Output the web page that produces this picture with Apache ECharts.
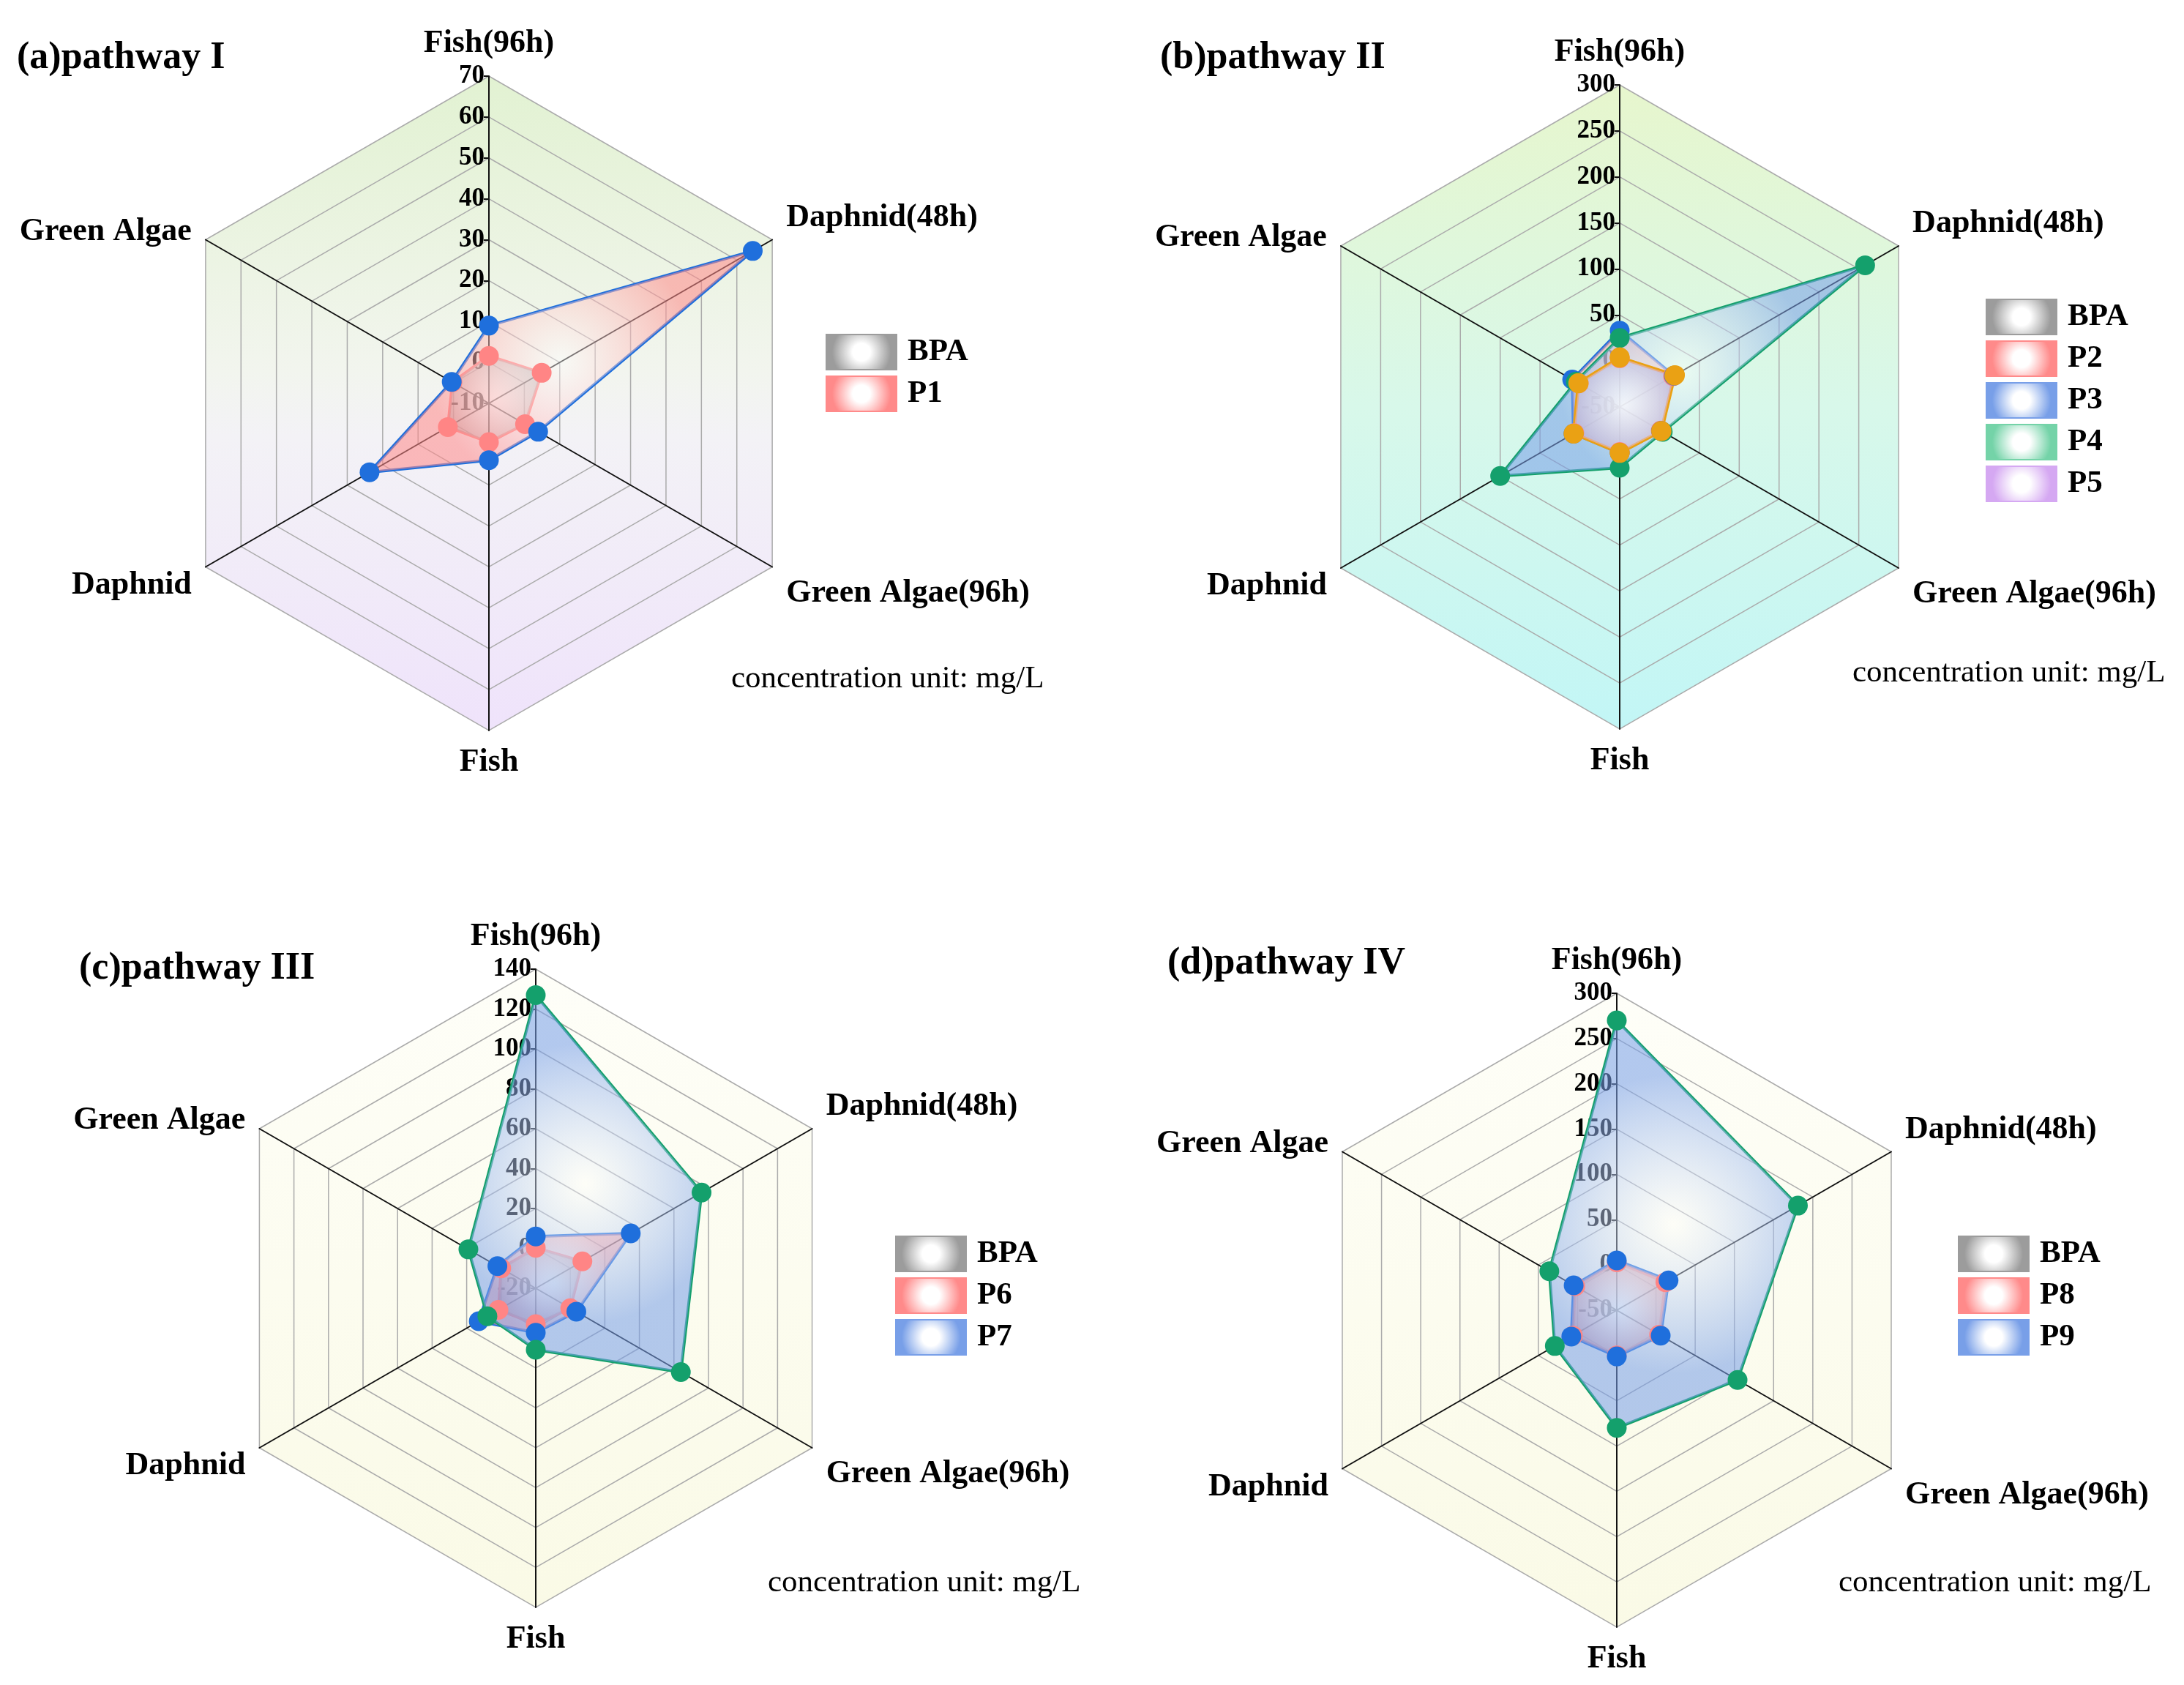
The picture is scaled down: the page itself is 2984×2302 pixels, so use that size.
<!DOCTYPE html>
<html>
<head>
<meta charset="utf-8">
<script src="https://cdn.jsdelivr.net/npm/echarts@6/dist/echarts.min.js"></script>
<style>html,body{margin:0;padding:0;background:#fff}#c{width:2984px;height:2302px}</style>
</head>
<body>
<div id="c"></div>
<script>
// ---------- DATA ----------
// categories listed clockwise from the top
const categories = ['Fish(96h)', 'Daphnid(48h)', 'Green Algae(96h)', 'Fish', 'Daphnid', 'Green Algae'];
const panelTitles = ['(a)pathway I', '(b)pathway II', '(c)pathway III', '(d)pathway IV'];
const unitText = 'concentration unit: mg/L';

const ticksA = [-10, 0, 10, 20, 30, 40, 50, 60, 70];
const ticksB = [-50, 0, 50, 100, 150, 200, 250, 300];
const ticksC = [-20, 0, 20, 40, 60, 80, 100, 120, 140];
const ticksD = [-50, 0, 50, 100, 150, 200, 250, 300];

const namesA = ['BPA', 'P1'];
const bpaA = [1.6, 4.9, 0.2, -0.5, 1.6, 0.3];
const p1 = [9, 64.5, 3.9, 3.9, 23.7, 0.5];

const namesB = ['BPA', 'P2', 'P3', 'P4', 'P5'];
const bpaB = [3, 17, 1.5, -1, 7, 1.5];
const p2 = [33, 18, 2, 0, 8, 9.6];
const p3 = [25, 258, 4, 16, 100, 5];
const p4 = [4, 19.4, 2.5, 0, 8, 2];
const p5 = [3.5, 18.5, 2, -0.5, 7.5, 1.5];

const namesC = ['BPA', 'P6', 'P7'];
const bpaC = [0.3, 7, 0, -2, 1.6, 0];
const p6 = [6, 35, 3.5, 2.3, 13, 2.2];
const p7 = [127, 76, 64, 10.8, 8, 19];

const namesD = ['BPA', 'P8', 'P9'];
const bpaD = [3, 12, 4, 0, 6, 3];
const p8 = [5, 16, 6, 1, 8, 5];
const p9 = [270, 181, 104, 80, 29, 36];

// ---------- STYLE / LAYOUT ----------
const SERIF = '"Liberation Serif", "Times New Roman", serif';
const lineColors = ['#ff8585', '#1f6fdc', '#14a06c', '#eaa114', '#eaa114'];
const fillColors = ['#9c9c9c', '#ff8a8a', '#789fe8', '#74d3a8', '#d5a8f2'];
const layout = [
  {cx: 668, cy: 551, r: 447, legendLeft: 1123, legendTop: 451, titleLeft: 23, titleTop: 54, unitLeft: 999, unitTop: 906,
   bg: [[0, '#e2f2d2'], [0.45, '#f2f5ee'], [0.55, '#f3f2f6'], [1, '#efe3fb']]},
  {cx: 2213, cy: 556, r: 440, legendLeft: 2708, legendTop: 403, titleLeft: 1585, titleTop: 54, unitLeft: 2531, unitTop: 898,
   bg: [[0, '#e7f6cd'], [0.5, '#d8f8ea'], [1, '#c2f6f6']]},
  {cx: 732, cy: 1760, r: 436, legendLeft: 1218, legendTop: 1683, titleLeft: 108, titleTop: 1298, unitLeft: 1049, unitTop: 2141,
   bg: [[0, '#fefef8'], [1, '#fafae6']]},
  {cx: 2209, cy: 1790, r: 433, legendLeft: 2670, legendTop: 1683, titleLeft: 1595, titleTop: 1291, unitLeft: 2512, unitTop: 2141,
   bg: [[0, '#fefef8'], [1, '#fafae6']]}
];
const panels = [
  {ticks: ticksA, names: namesA, values: [bpaA, p1]},
  {ticks: ticksB, names: namesB, values: [bpaB, p2, p3, p4, p5]},
  {ticks: ticksC, names: namesC, values: [bpaC, p6, p7]},
  {ticks: ticksD, names: namesD, values: [bpaD, p8, p9]}
];

// ECharts lays indicators out counter-clockwise; reorder clockwise lists
const ccw = a => [a[0], a[5], a[4], a[3], a[2], a[1]];
const rgba = (hex, a) => {
  const n = parseInt(hex.slice(1), 16);
  return 'rgba(' + (n >> 16 & 255) + ',' + (n >> 8 & 255) + ',' + (n & 255) + ',' + a + ')';
};
const areaGrad = c => ({type: 'radial', x: 0.5, y: 0.5, r: 0.6,
  colorStops: [{offset: 0, color: 'rgba(255,255,255,0.6)'}, {offset: 1, color: rgba(c, 0.8)}]});
const iconGrad = c => ({type: 'radial', x: 0.5, y: 0.5, r: 0.8,
  colorStops: [{offset: 0, color: '#ffffff'}, {offset: 0.3, color: '#ffffff'}, {offset: 1, color: c}]});

const richName = {
  up: {fontSize: 44, fontWeight: 'bold', fontFamily: SERIF, color: '#000', padding: [0, 0, 38, 0]},
  down: {fontSize: 44, fontWeight: 'bold', fontFamily: SERIF, color: '#000', padding: [50, 0, 0, 0]},
  down2: {fontSize: 44, fontWeight: 'bold', fontFamily: SERIF, color: '#000', padding: [28, 0, 0, 0]},
  plain: {fontSize: 44, fontWeight: 'bold', fontFamily: SERIF, color: '#000'}
};
const nameStyleKey = {'Daphnid(48h)': 'up', 'Green Algae(96h)': 'down', 'Daphnid': 'down2'};

const chart = echarts.init(document.getElementById('c'), null, {renderer: 'canvas', width: 2984, height: 2302});

const radars = [], series = [], legends = [], titles = [];
panels.forEach((p, k) => {
  const L = layout[k];
  const mn = p.ticks[0], mx = p.ticks[p.ticks.length - 1];
  const bgGrad = new echarts.graphic.LinearGradient(0, L.cy - L.r, 0, L.cy + L.r,
    L.bg.map(s => ({offset: s[0], color: s[1]})), true);
  radars.push({
    center: [L.cx, L.cy],
    radius: L.r,
    startAngle: 90,
    shape: 'polygon',
    splitNumber: p.ticks.length - 1,
    nameGap: 22,
    axisName: {
      color: '#000', fontSize: 44, fontWeight: 'bold', fontFamily: SERIF,
      formatter: name => '{' + (nameStyleKey[name] || 'plain') + '|' + name + '}',
      rich: richName
    },
    indicator: ccw(categories).map((c, i) => ({
      name: c, min: mn, max: mx,
      axisLabel: {show: i === 0},
      axisTick: {show: i === 0}
    })),
    axisLine: {lineStyle: {color: '#111', width: 2}},
    axisTick: {show: false, length: 7, lineStyle: {color: '#111', width: 2}},
    axisLabel: {show: false, fontSize: 35, fontWeight: 'bold', fontFamily: SERIF, color: '#000', margin: 6},
    splitLine: {lineStyle: {color: '#ababab', width: 1.5}},
    splitArea: {show: true, areaStyle: {color: [bgGrad]}}
  });
  series.push({
    type: 'radar',
    radarIndex: k,
    symbol: 'circle',
    symbolSize: 27,
    data: p.names.map((n, i) => ({
      name: n,
      value: ccw(p.values[i]),
      lineStyle: {color: lineColors[i], width: 4},
      itemStyle: {color: lineColors[i]},
      areaStyle: {color: areaGrad(fillColors[i])}
    }))
  });
  legends.push({
    orient: 'vertical',
    left: L.legendLeft,
    top: L.legendTop,
    icon: 'rect',
    itemWidth: 96,
    itemHeight: 48,
    itemGap: 7,
    selectedMode: false,
    textStyle: {fontSize: 43, fontWeight: 'bold', fontFamily: SERIF, color: '#000', lineHeight: 48, padding: [0, 0, 0, 10]},
    data: p.names.map((n, i) => ({
      name: n,
      itemStyle: {color: iconGrad(fillColors[i]), borderColor: fillColors[i], borderWidth: 2}
    }))
  });
  titles.push({
    text: panelTitles[k], left: L.titleLeft, top: L.titleTop, padding: 0,
    textStyle: {fontSize: 52, fontWeight: 'bold', fontFamily: SERIF, color: '#000'}
  });
  titles.push({
    text: unitText, left: L.unitLeft, top: L.unitTop, padding: 0,
    textStyle: {fontSize: 43, fontWeight: 'normal', fontFamily: SERIF, color: '#000'}
  });
});

chart.setOption({
  backgroundColor: '#ffffff',
  animation: false,
  title: titles,
  legend: legends,
  radar: radars,
  series: series
});
</script>
</body>
</html>
